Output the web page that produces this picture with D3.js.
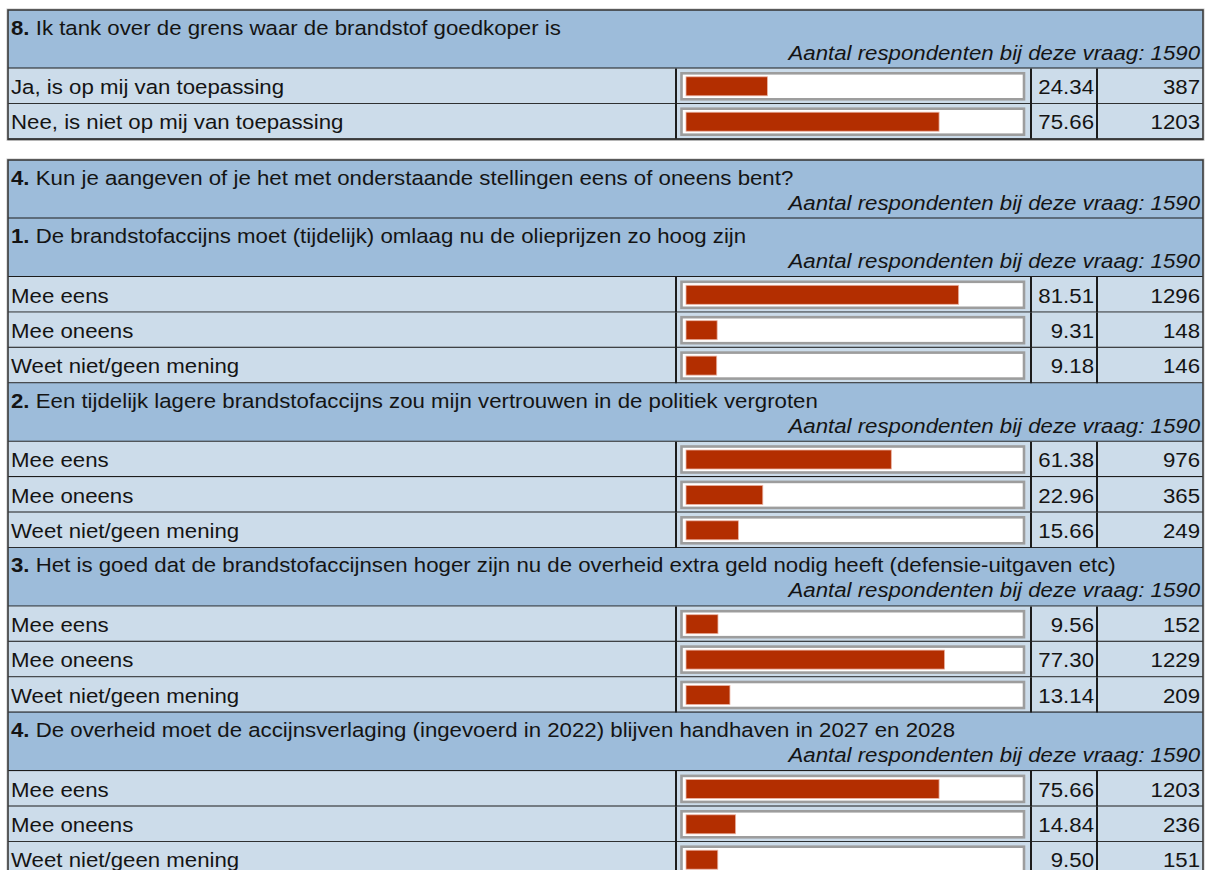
<!DOCTYPE html>
<html>
<head>
<meta charset="utf-8">
<script src="https://cdn.jsdelivr.net/npm/d3@7"></script>
<style>
  body { margin: 0; background: #fff; }
  text { font-family: "Liberation Sans", Arial, sans-serif; font-size: 20.5px; fill: #141414; }
</style>
</head>
<body>
<script>
// data
const respondents = 1590;
const q8Num = '8.';
const q8Title = 'Ik tank over de grens waar de brandstof goedkoper is';
const q8Labels = ['Ja, is op mij van toepassing', 'Nee, is niet op mij van toepassing'];
const q8Pct = [24.34, 75.66];
const q8Count = [387, 1203];

const q4Num = '4.';
const q4Title = 'Kun je aangeven of je het met onderstaande stellingen eens of oneens bent?';
const statements = [
    'De brandstofaccijns moet (tijdelijk) omlaag nu de olieprijzen zo hoog zijn',
    'Een tijdelijk lagere brandstofaccijns zou mijn vertrouwen in de politiek vergroten',
    'Het is goed dat de brandstofaccijnsen hoger zijn nu de overheid extra geld nodig heeft (defensie-uitgaven etc)',
    'De overheid moet de accijnsverlaging (ingevoerd in 2022) blijven handhaven in 2027 en 2028'
];
const answerLabels = ['Mee eens', 'Mee oneens', 'Weet niet/geen mening'];
const statementPct = [
    [81.51, 9.31, 9.18],
    [61.38, 22.96, 15.66],
    [9.56, 77.30, 13.14],
    [75.66, 14.84, 9.50]
];
const statementCount = [
    [1296, 148, 146],
    [976, 365, 249],
    [152, 1229, 209],
    [1203, 236, 151]
];

const width = 1205, height = 870;
const left = 8, right = 1203;
const cols = [left, 676, 1031, 1097, right];
const headH = 58.5, rowH = 35.4;
const sx = 1.085; // text in the picture is a bit wide

const x = d3.scaleLinear().domain([0, 100]).range([0, 334.5]);

const svg = d3.select('body').append('svg')
    .attr('width', width)
    .attr('height', height);

const txt = (g, tx, ty, anchor) => g.append('text')
    .attr('transform', `translate(${tx},${ty}) scale(${sx},1)`)
    .attr('text-anchor', anchor || 'start');

const drawTable = (top, rows) => {
    const g = svg.append('g');
    let y = top;
    const lines = [];
    rows.forEach(r => {
        if (r.kind === 'q') {
            g.append('rect').attr('x', left).attr('y', y).attr('width', right - left).attr('height', headH)
                .attr('fill', '#9dbcda');
            const t = txt(g, 11, y + 24.5);
            t.append('tspan').attr('font-weight', 'bold').text(r.num);
            t.append('tspan').text(' ' + r.text);
            txt(g, right - 3, y + 49.5, 'end')
                .attr('font-style', 'italic')
                .text(`Aantal respondenten bij deze vraag: ${respondents}`);
            y += headH;
        } else {
            g.append('rect').attr('x', left).attr('y', y).attr('width', right - left).attr('height', rowH)
                .attr('fill', '#ccdcea');
            txt(g, 11, y + 25.5).text(r.label);
            // bar box
            g.append('rect').attr('x', 681.5).attr('y', y + 4.8).attr('width', 342.5).attr('height', 26)
                .attr('fill', '#fff').attr('stroke', '#9d9d9d').attr('stroke-width', 2.6);
            g.append('rect').attr('x', 686).attr('y', y + 8.3).attr('width', x(r.pct)).attr('height', 19)
                .attr('fill', '#b32e00').attr('stroke', '#eab3a3').attr('stroke-width', 0.8);
            txt(g, 1094, y + 25.5, 'end').text(r.pct.toFixed(2));
            txt(g, 1200, y + 25.5, 'end').text(r.count);
            lines.push({ y0: y, y1: y + rowH });
            y += rowH;
        }
        g.append('line').attr('x1', left).attr('x2', right).attr('y1', y).attr('y2', y)
            .attr('stroke', '#1c1c1c').attr('stroke-width', 2);
    });
    // column separators in answer rows
    lines.forEach(l => {
        cols.slice(1, 4).forEach(cx => {
            g.append('line').attr('x1', cx).attr('x2', cx).attr('y1', l.y0).attr('y2', l.y1)
                .attr('stroke', '#1c1c1c').attr('stroke-width', 2);
        });
    });
    // outer border
    g.append('rect').attr('x', left - 1).attr('y', top - 1).attr('width', right - left + 2).attr('height', y - top + 2)
        .attr('fill', 'none').attr('stroke', '#c4c4c4').attr('stroke-width', 1);
    g.append('rect').attr('x', left).attr('y', top).attr('width', right - left).attr('height', y - top)
        .attr('fill', 'none').attr('stroke', '#3a3a3a').attr('stroke-width', 1.6);
};

const table1 = [{ kind: 'q', num: q8Num, text: q8Title }]
    .concat(q8Labels.map((d, i) => ({ kind: 'a', label: d, pct: q8Pct[i], count: q8Count[i] })));

const table2 = [{ kind: 'q', num: q4Num, text: q4Title }];
statements.forEach((s, i) => {
    table2.push({ kind: 'q', num: (i + 1) + '.', text: s });
    answerLabels.forEach((a, j) => table2.push({ kind: 'a', label: a, pct: statementPct[i][j], count: statementCount[i][j] }));
});

drawTable(10, table1);
drawTable(160, table2);
</script>
</body>
</html>
